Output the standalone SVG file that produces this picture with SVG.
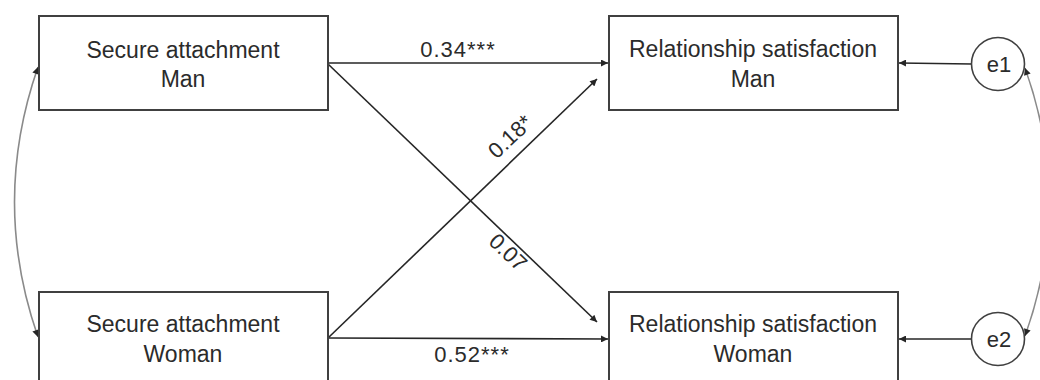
<svg xmlns="http://www.w3.org/2000/svg" width="1040" height="380" viewBox="0 0 1040 380">
<defs>
<style>
.box{fill:#fff;stroke:#404040;stroke-width:2}
.t{font-family:"Liberation Sans",Arial,sans-serif;font-size:22px;fill:#2b2b2b;text-anchor:middle}
.b{font-size:23px}
.e{fill:none;stroke:#262626;stroke-width:1.6}
.c{fill:none;stroke:#8a8a8a;stroke-width:1.6}
</style>
<marker id="ah" viewBox="0 0 10 10" refX="10" refY="5" markerWidth="9" markerHeight="7" markerUnits="userSpaceOnUse" orient="auto-start-reverse">
<path d="M0,0 L10,5 L0,10 z" fill="#262626"/>
</marker>
</defs>
<rect width="1040" height="380" fill="#fff"/>
<g id="connectors">
<line class="e" x1="328" y1="63" x2="608" y2="63" marker-end="url(#ah)"/>
<line class="e" x1="328" y1="64" x2="597" y2="322" marker-end="url(#ah)"/>
<line class="e" x1="328" y1="338" x2="597" y2="79" marker-end="url(#ah)"/>
<line class="e" x1="328" y1="338" x2="608" y2="339" marker-end="url(#ah)"/>
<line class="e" x1="972" y1="64" x2="899" y2="63" marker-end="url(#ah)"/>
<line class="e" x1="972" y1="339" x2="899" y2="339" marker-end="url(#ah)"/>
<path class="c" d="M38,67 Q-9,202 38,337" marker-start="url(#ah)" marker-end="url(#ah)"/>
<path class="c" d="M1025,68 Q1073,202 1025,336" marker-start="url(#ah)" marker-end="url(#ah)"/>
<text class="t" x="458" y="57" letter-spacing="1">0.34***</text>
<text class="t" x="472" y="362" letter-spacing="1">0.52***</text>
<text class="t" transform="translate(523,150) rotate(-43.5)" x="0" y="-11">0.18*</text>
<text class="t" transform="translate(516,244) rotate(43.4)" x="0" y="19">0.07</text>
</g>
<g id="sam">
<rect class="box" x="39" y="16" width="289" height="94"/>
<text class="t b" x="183" y="58">Secure attachment</text>
<text class="t b" x="183" y="87">Man</text>
</g>
<g id="saw">
<rect class="box" x="39" y="292" width="289" height="100"/>
<text class="t b" x="183" y="332">Secure attachment</text>
<text class="t b" x="183" y="362">Woman</text>
</g>
<g id="rsm">
<rect class="box" x="609" y="16" width="289" height="94"/>
<text class="t b" x="753" y="57">Relationship satisfaction</text>
<text class="t b" x="753" y="87">Man</text>
</g>
<g id="rsw">
<rect class="box" x="609" y="292" width="289" height="100"/>
<text class="t b" x="753" y="332">Relationship satisfaction</text>
<text class="t b" x="753" y="362">Woman</text>
</g>
<g id="e1">
<circle cx="998" cy="64" r="26.5" fill="#fff" stroke="#404040" stroke-width="1.6"/>
<text class="t" x="999" y="72">e1</text>
</g>
<g id="e2">
<circle cx="998" cy="339" r="26.5" fill="#fff" stroke="#404040" stroke-width="1.6"/>
<text class="t" x="999" y="347">e2</text>
</g>
</svg>
